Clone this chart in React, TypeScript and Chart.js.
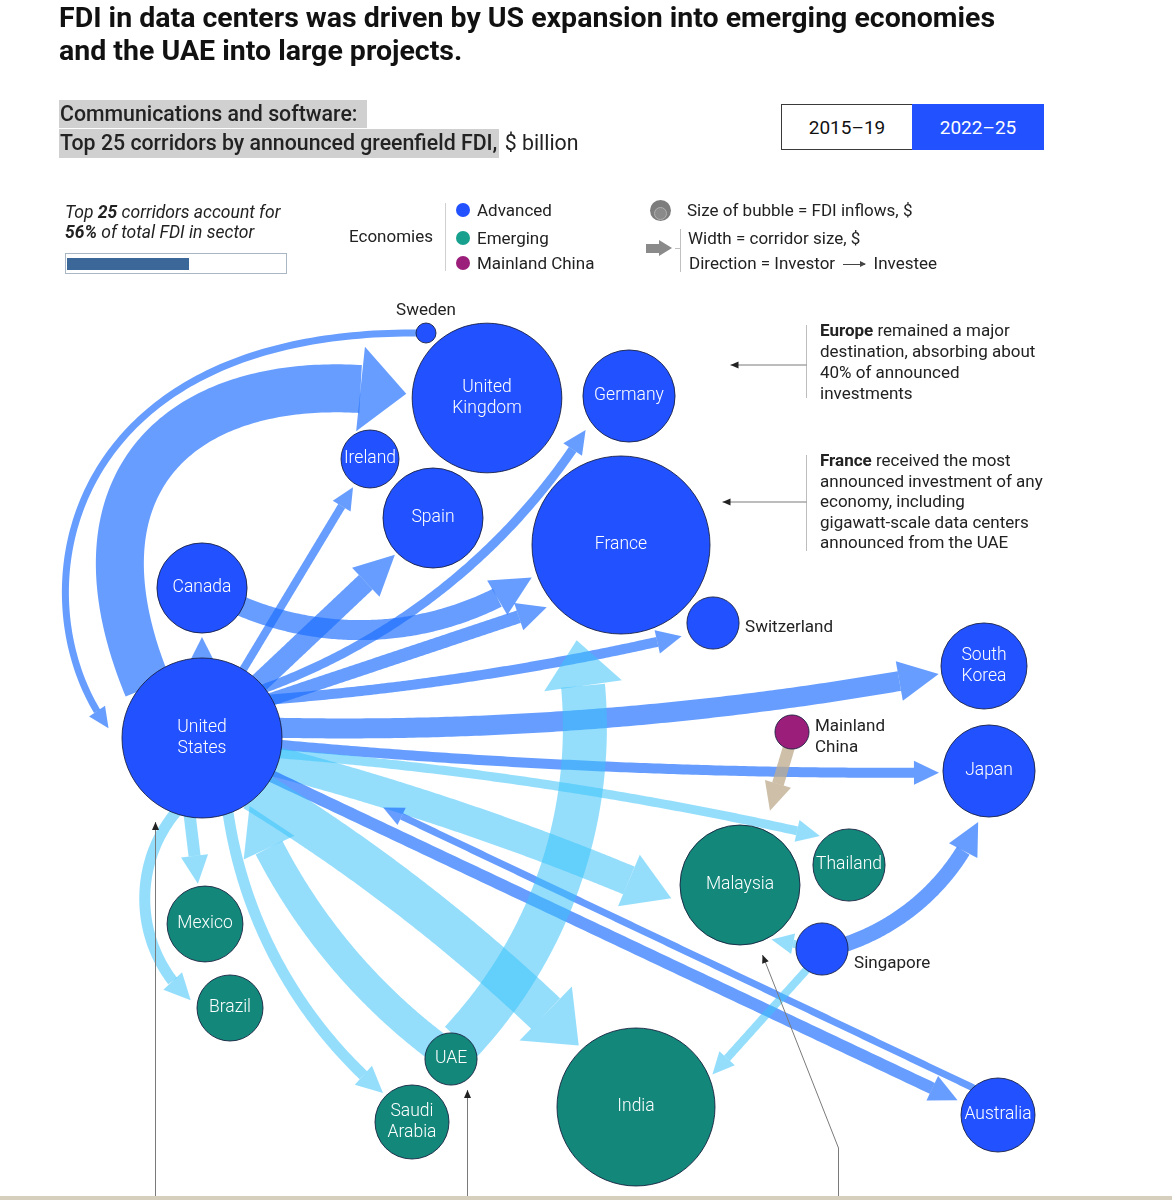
import React, { useEffect, useRef } from "react";
import { Chart, registerables } from "chart.js";

Chart.register(...registerables);

// ---------------- data ----------------
const economies = [
  "United States", "United Kingdom", "Germany", "Ireland", "Spain", "France", "Canada",
  "Switzerland", "South Korea", "Japan", "Australia", "Singapore", "Sweden",
  "Mainland China", "Malaysia", "Thailand", "Mexico", "Brazil", "UAE", "Saudi Arabia", "India",
];
const economyGroup = [
  "Advanced", "Advanced", "Advanced", "Advanced", "Advanced", "Advanced", "Advanced",
  "Advanced", "Advanced", "Advanced", "Advanced", "Advanced", "Advanced",
  "Mainland China", "Emerging", "Emerging", "Emerging", "Emerging", "Emerging", "Emerging", "Emerging",
];
// FDI inflows, $ billion (bubble size)
const fdiInflows = [64, 56, 21.2, 8.4, 25, 79.2, 20.3, 6.8, 18.5, 21.2, 13.7, 6.8, 1.0, 2.9, 36, 13, 14.4, 10.9, 6.8, 13.7, 62.4];

// corridors: investor -> investee, $ billion (arrow width)
const corridorFrom = [
  "United States", "Sweden", "Canada", "United States", "United States", "United States", "United States",
  "United States", "United States", "United States", "United States", "United States", "United States",
  "United States", "Australia", "United States", "UAE", "United States", "United States", "United States",
  "UAE", "Mainland China", "Singapore", "Singapore", "Singapore",
];
const corridorTo = [
  "United Kingdom", "United States", "France", "Canada", "Ireland", "Spain", "Germany",
  "France", "Switzerland", "South Korea", "Japan", "Thailand", "Malaysia",
  "Australia", "United States", "India", "United States", "Saudi Arabia", "Brazil", "Mexico",
  "France", "Malaysia", "Japan", "Malaysia", "India",
];
const corridorValue = [19.2, 2.8, 8, 4.8, 3.2, 8, 3.6, 5.2, 4, 8, 4, 3.6, 12, 4.8, 2.8, 16.8, 12, 4.4, 4.4, 4.8, 17.6, 4.8, 6, 3.2, 3.2];

// ---------------- layout (positions / styles) ----------------
const nodeX = [202, 487, 629, 370, 433, 621, 202, 713, 984, 989, 998, 822, 426, 792, 740, 849, 205, 230, 451, 412, 636];
const nodeY = [738, 398, 396, 459, 518, 545, 588, 623, 666, 771, 1115, 949, 333, 732, 885, 865, 924, 1008, 1059, 1122, 1107];
const labelPlacement = [
  "in", "in", "in", "in", "in", "in", "in", "right", "in", "in", "in", "below-right", "above",
  "right", "in", "in", "in", "in", "in", "in", "in",
];
// angle (deg) where an arrow leaves its source / meets its target, gap before target, arc bend (sagitta)
const corridorStartAngle = [-137, 180, 25, -90, -59, -44, -40, -30, -31, -8, 5, 12, 18, 29, -128, 45, -140, 70, 108, 100, -60, 100, -10, 190, 125];
const corridorEndAngle = [183, 186, 160, 90, 121, 136, 142, 140, 157, 170, 178, 225, 169, 200, 21, 227, 55, -135, 191, -100, 115, -68, 102, 60, -23];
const corridorGap = [6, 14, 6, 4, 4, 3, 9, 8, 8, 3, 4, 5, 10, 6, 114, 5, 3, 4, 7, 3, 16, 20, 6, 3, 4];
const corridorBend = [0, 0, -38, 0, 0, 0, -35, 0, -8, -17, -8, 10, 8, 0, 0, 12, 20, -30, -40, 0, -50, 0, -20, 0, 0];
// optional cubic control points for the long sweeping arcs
const corridorControls: (number[] | null)[] = [
  [58, 470, 195, 362], [52, 330, 16, 606], null, null, null, null, null, null, null, null, null, null, null,
  null, null, null, null, null, null, null, null, null, null, null, null,
];
// annotation call-outs: polyline points, arrowhead at the end
const callouts: number[][] = [
  [806, 365, 730, 365],
  [806, 502, 722, 502],
  [155, 1197, 155, 822],
  [467, 1197, 467, 1090],
  [838, 1197, 838, 1148, 762, 955],
];
const calloutBars: number[][] = [
  [806, 325, 806, 398],
  [806, 455, 806, 551],
];

const groupColor: Record<string, string> = {
  Advanced: "#2251FF",
  Emerging: "#13877A",
  "Mainland China": "#9C1E7B",
};
const arrowColor = {
  adv: "rgba(30,110,255,0.68)",
  em: "rgba(60,195,250,0.55)",
  cn: "rgba(190,170,140,0.75)",
};

const bubbleRadius = (v: number) => 10 * Math.sqrt(v);
const corridorWidth = (v: number) => v * 2.5;

type P = { x: number; y: number };

function samplePath(A: P, B: P, bend: number, ctrl: P[] | null): P[] {
  const N = 140;
  const pts: P[] = [];
  if (ctrl) {
    const [c1, c2] = ctrl;
    for (let i = 0; i <= N; i++) {
      const t = i / N, u = 1 - t;
      pts.push({
        x: u * u * u * A.x + 3 * u * u * t * c1.x + 3 * u * t * t * c2.x + t * t * t * B.x,
        y: u * u * u * A.y + 3 * u * u * t * c1.y + 3 * u * t * t * c2.y + t * t * t * B.y,
      });
    }
    return pts;
  }
  if (Math.abs(bend) < 0.5) {
    for (let i = 0; i <= N; i++) {
      const t = i / N;
      pts.push({ x: A.x + (B.x - A.x) * t, y: A.y + (B.y - A.y) * t });
    }
    return pts;
  }
  const dx = B.x - A.x, dy = B.y - A.y, d = Math.hypot(dx, dy);
  const ux = dx / d, uy = dy / d, nx = uy, ny = -ux;
  const s = bend, c = d / 2, R = (s * s + c * c) / (2 * Math.abs(s));
  const Mx = (A.x + B.x) / 2, My = (A.y + B.y) / 2;
  const Px = Mx + s * nx, Py = My + s * ny;
  const k = Math.sign(s) * (Math.abs(s) - R);
  const Cx = Mx + k * nx, Cy = My + k * ny;
  const a0 = Math.atan2(A.y - Cy, A.x - Cx);
  const a1 = Math.atan2(B.y - Cy, B.x - Cx);
  const am = Math.atan2(Py - Cy, Px - Cx);
  const TAU = Math.PI * 2;
  const norm = (a: number) => ((a % TAU) + TAU) % TAU;
  const sp = norm(a1 - a0), mp = norm(am - a0);
  const sweep = mp < sp ? sp : sp - TAU;
  for (let i = 0; i <= N; i++) {
    const a = a0 + (sweep * i) / N;
    pts.push({ x: Cx + R * Math.cos(a), y: Cy + R * Math.sin(a) });
  }
  return pts;
}

function drawArrow(ctx: CanvasRenderingContext2D, pts: P[], w: number, color: string) {
  const headW = w * 1.6 + 8;
  let headL = Math.min(w * 1.5 + 10, 46);
  const cum = [0];
  for (let i = 1; i < pts.length; i++) cum.push(cum[i - 1] + Math.hypot(pts[i].x - pts[i - 1].x, pts[i].y - pts[i - 1].y));
  const total = cum[cum.length - 1];
  if (headL > total) headL = total;
  const cut = total - headL;
  let j = 1;
  while (j < pts.length - 1 && cum[j] < cut) j++;
  const seg = cum[j] - cum[j - 1] || 1;
  const f = Math.max(0, Math.min(1, (cut - cum[j - 1]) / seg));
  const base = { x: pts[j - 1].x + (pts[j].x - pts[j - 1].x) * f, y: pts[j - 1].y + (pts[j].y - pts[j - 1].y) * f };
  const tip = pts[pts.length - 1];
  ctx.fillStyle = color;
  ctx.strokeStyle = color;
  if (cut > 0.5) {
    ctx.beginPath();
    ctx.moveTo(pts[0].x, pts[0].y);
    for (let k = 1; k < j; k++) ctx.lineTo(pts[k].x, pts[k].y);
    ctx.lineTo(base.x, base.y);
    ctx.lineWidth = w;
    ctx.lineCap = "butt";
    ctx.lineJoin = "round";
    ctx.stroke();
  }
  const hx = tip.x - base.x, hy = tip.y - base.y, hl = Math.hypot(hx, hy) || 1;
  const px = -hy / hl, py = hx / hl;
  ctx.beginPath();
  ctx.moveTo(base.x + (px * headW) / 2, base.y + (py * headW) / 2);
  ctx.lineTo(tip.x, tip.y);
  ctx.lineTo(base.x - (px * headW) / 2, base.y - (py * headW) / 2);
  ctx.closePath();
  ctx.fill();
}

const corridorPlugin = {
  id: "corridors",
  beforeDatasetsDraw(chart: any) {
    const ctx: CanvasRenderingContext2D = chart.ctx;
    const xs = chart.scales.x, ys = chart.scales.y;
    const toPx = (x: number, y: number): P => ({ x: xs.getPixelForValue(x), y: ys.getPixelForValue(y) });
    ctx.save();
    for (let i = 0; i < corridorFrom.length; i++) {
      const f = economies.indexOf(corridorFrom[i]);
      const t = economies.indexOf(corridorTo[i]);
      const fc = toPx(nodeX[f], nodeY[f]);
      const tc = toPx(nodeX[t], nodeY[t]);
      const rf = bubbleRadius(fdiInflows[f]);
      const rt = bubbleRadius(fdiInflows[t]);
      const a0 = (corridorStartAngle[i] * Math.PI) / 180;
      const a1 = (corridorEndAngle[i] * Math.PI) / 180;
      const inset = Math.min(6, rf * 0.3);
      const A = { x: fc.x + (rf - inset) * Math.cos(a0), y: fc.y + (rf - inset) * Math.sin(a0) };
      const B = { x: tc.x + (rt + corridorGap[i]) * Math.cos(a1), y: tc.y + (rt + corridorGap[i]) * Math.sin(a1) };
      const cc = corridorControls[i];
      const ctrl = cc ? [toPx(cc[0], cc[1]), toPx(cc[2], cc[3])] : null;
      const pts = samplePath(A, B, corridorBend[i], ctrl);
      const gf = economyGroup[f], gt = economyGroup[t];
      const kind = gf === "Mainland China" ? "cn" : gf === "Emerging" || gt === "Emerging" ? "em" : "adv";
      drawArrow(ctx, pts, corridorWidth(corridorValue[i]), (arrowColor as any)[kind]);
    }
    ctx.restore();
  },
  afterDatasetsDraw(chart: any) {
    const ctx: CanvasRenderingContext2D = chart.ctx;
    const xs = chart.scales.x, ys = chart.scales.y;
    const toPx = (x: number, y: number): P => ({ x: xs.getPixelForValue(x), y: ys.getPixelForValue(y) });
    ctx.save();
    ctx.lineWidth = 1;
    ctx.strokeStyle = "#bdbdbd";
    calloutBars.forEach((b) => {
      const p0 = toPx(b[0], b[1]), p1 = toPx(b[2], b[3]);
      ctx.beginPath();
      ctx.moveTo(Math.round(p0.x) + 0.5, p0.y);
      ctx.lineTo(Math.round(p1.x) + 0.5, p1.y);
      ctx.stroke();
    });
    callouts.forEach((c) => {
      const pts: P[] = [];
      for (let k = 0; k < c.length; k += 2) pts.push(toPx(c[k], c[k + 1]));
      ctx.strokeStyle = "#7a7a7a";
      ctx.beginPath();
      ctx.moveTo(pts[0].x + 0.5, pts[0].y);
      for (let k = 1; k < pts.length; k++) ctx.lineTo(pts[k].x + 0.5, pts[k].y);
      ctx.stroke();
      const a = pts[pts.length - 2], b = pts[pts.length - 1];
      const dx = b.x - a.x, dy = b.y - a.y, l = Math.hypot(dx, dy);
      const ux = dx / l, uy = dy / l;
      ctx.fillStyle = "#222";
      ctx.beginPath();
      ctx.moveTo(b.x + 0.5, b.y);
      ctx.lineTo(b.x + 0.5 - ux * 8 - uy * 3.5, b.y - uy * 8 + ux * 3.5);
      ctx.lineTo(b.x + 0.5 - ux * 8 + uy * 3.5, b.y - uy * 8 - ux * 3.5);
      ctx.closePath();
      ctx.fill();
    });
    ctx.textBaseline = "middle";
    for (let i = 0; i < economies.length; i++) {
      const c = toPx(nodeX[i], nodeY[i]);
      const r = bubbleRadius(fdiInflows[i]);
      const lines = economies[i].split(" ");
      const lh = 21;
      const place = labelPlacement[i];
      let x = c.x, y = c.y;
      if (place === "in") {
        ctx.font = "300 17.5px Roboto, 'Liberation Sans', Arial, sans-serif";
        ctx.fillStyle = "#ffffff";
        ctx.textAlign = "center";
        y = c.y - ((lines.length - 1) * lh) / 2;
      } else {
        ctx.font = "17px Roboto, 'Liberation Sans', Arial, sans-serif";
        ctx.fillStyle = "#222";
        if (place === "above") {
          ctx.textAlign = "center";
          y = c.y - r - 12;
        } else if (place === "right") {
          ctx.textAlign = "left";
          x = c.x + r + 6;
          y = c.y + 5 - ((lines.length - 1) * lh) / 2;
        } else {
          ctx.textAlign = "left";
          x = c.x + r + 6;
          y = c.y + 15;
        }
      }
      lines.forEach((ln, k) => ctx.fillText(ln, x, y + k * lh));
    }
    ctx.restore();
  },
};

const FONT = "Roboto, 'Liberation Sans', Arial, sans-serif";
const abs = (s: React.CSSProperties): React.CSSProperties => ({ position: "absolute", ...s });

export default function App() {
  const ref = useRef<HTMLCanvasElement>(null);
  useEffect(() => {
    const canvas = ref.current!;
    const groups = ["Advanced", "Emerging", "Mainland China"];
    const datasets = groups.map((g) => ({
      label: g,
      data: economies
        .map((_, i) => ({ x: nodeX[i], y: nodeY[i], r: bubbleRadius(fdiInflows[i]), g: economyGroup[i] }))
        .filter((d) => d.g === g)
        .map(({ x, y, r }) => ({ x, y, r })),
      backgroundColor: groupColor[g],
      borderColor: "rgba(20,28,60,0.85)",
      borderWidth: 1,
      clip: false as any,
    }));
    const chart = new Chart(canvas, {
      type: "bubble",
      data: { datasets },
      options: {
        responsive: false,
        animation: false,
        devicePixelRatio: 1,
        events: [],
        layout: { padding: 0, autoPadding: false } as any,
        scales: {
          x: { type: "linear", min: 0, max: 1172, display: false },
          y: { type: "linear", min: 0, max: 1200, reverse: true, display: false },
        },
        plugins: { legend: { display: false }, tooltip: { enabled: false } },
      },
      plugins: [corridorPlugin as any],
    });
    return () => chart.destroy();
  }, []);

  const dot = (color: string, top: number) => (
    <div style={abs({ left: 456, top: top - 7, width: 14, height: 14, borderRadius: 7, background: color })} />
  );
  const body: React.CSSProperties = { fontSize: 17, lineHeight: "20px", whiteSpace: "nowrap" };

  return (
    <div style={abs({ left: 0, top: 0, width: 1172, height: 1200, overflow: "hidden", background: "#fff", fontFamily: FONT, color: "#222" })}>
      <canvas ref={ref} width={1172} height={1200} style={abs({ left: 0, top: 0, width: 1172, height: 1200 })} />

      {/* title */}
      <div style={abs({ left: 59, top: 1, fontSize: 28.5, fontWeight: 700, lineHeight: "33px", color: "#111", whiteSpace: "nowrap", letterSpacing: 0 })}>
        FDI in data centers was driven by US expansion into emerging economies
        <br />
        and the UAE into large projects.
      </div>

      {/* subtitle */}
      <div style={abs({ left: 59, top: 100, fontSize: 21.3, lineHeight: "28px", color: "#222", whiteSpace: "nowrap" })}>
        <div>
          <span style={{ display: "inline-block", background: "#d0d0d0", padding: "0 10px 0 1px", fontWeight: 500 }}>
            Communications and software:
          </span>
        </div>
        <div style={{ marginTop: 1 }}>
          <span style={{ display: "inline-block", background: "#d0d0d0", padding: "0 2px 1px 1px", fontWeight: 500 }}>
            Top 25 corridors by announced greenfield FDI,
          </span>{" "}
          $ billion
        </div>
      </div>

      {/* period toggle */}
      <div
        style={abs({
          left: 781, top: 104, width: 131, height: 46, boxSizing: "border-box", border: "1px solid #3a3a3a", borderRight: "none",
          display: "flex", alignItems: "center", justifyContent: "center", fontSize: 19, color: "#111", background: "#fff",
        })}
      >
        2015–19
      </div>
      <div
        style={abs({
          left: 912, top: 104, width: 132, height: 46, display: "flex", alignItems: "center", justifyContent: "center",
          fontSize: 19, color: "#fff", background: "#2251FF",
        })}
      >
        2022–25
      </div>

      {/* share box */}
      <div style={abs({ left: 65, top: 202, fontSize: 17.5, lineHeight: "20px", fontStyle: "italic", color: "#222", whiteSpace: "nowrap" })}>
        Top <b>25</b> corridors account for
        <br />
        <b>56%</b> of total FDI in sector
      </div>
      <div style={abs({ left: 65, top: 253, width: 222, height: 21, boxSizing: "border-box", border: "1px solid #a8b6c6" })} />
      <div style={abs({ left: 67, top: 258, width: 122, height: 12, background: "#3b6899" })} />

      {/* economies legend */}
      <div style={abs({ left: 349, top: 226, ...body })}>Economies</div>
      <div style={abs({ left: 445, top: 203, width: 1, height: 68, background: "#d0d0d0" })} />
      {dot("#2251FF", 210)}
      {dot("#17A08E", 238)}
      {dot("#9C1E7B", 263)}
      <div style={abs({ left: 477, top: 200, ...body })}>Advanced</div>
      <div style={abs({ left: 477, top: 228, ...body })}>Emerging</div>
      <div style={abs({ left: 477, top: 253, ...body })}>Mainland China</div>

      {/* size / width legend */}
      <div style={abs({ left: 650, top: 200, width: 21, height: 21, borderRadius: 11, background: "#7d7d7d" })} />
      <div style={abs({ left: 654, top: 207, width: 13, height: 13, borderRadius: 7, boxSizing: "border-box", border: "1.5px solid #b0b0b0", background: "#8a8a8a" })} />
      <div style={abs({ left: 687, top: 200, ...body })}>Size of bubble = FDI inflows, $</div>
      <div style={abs({ left: 646, top: 244, width: 13, height: 9, background: "#8a8a8a" })} />
      <div style={abs({ left: 659, top: 240, width: 0, height: 0, borderLeft: "13px solid #8a8a8a", borderTop: "8.5px solid transparent", borderBottom: "8.5px solid transparent" })} />
      <div style={abs({ left: 675, top: 248, width: 5, height: 1, background: "#c0c0c0" })} />
      <div style={abs({ left: 680, top: 229, width: 1, height: 43, background: "#c0c0c0" })} />
      <div style={abs({ left: 688, top: 228, ...body })}>Width = corridor size, $</div>
      <div style={abs({ left: 689, top: 253, ...body })}>
        Direction = Investor{" "}
        <span style={{ display: "inline-block", position: "relative", width: 22, height: 1, background: "#444", verticalAlign: "middle", margin: "0 4px" }}>
          <span style={{ position: "absolute", right: -1, top: -3, width: 0, height: 0, borderLeft: "6px solid #444", borderTop: "3.5px solid transparent", borderBottom: "3.5px solid transparent" }} />
        </span>{" "}
        Investee
      </div>

      {/* annotations */}
      <div style={abs({ left: 820, top: 320, fontSize: 17, lineHeight: "21px", whiteSpace: "nowrap", color: "#222" })}>
        <b>Europe</b> remained a major
        <br />
        destination, absorbing about
        <br />
        40% of announced
        <br />
        investments
      </div>
      <div style={abs({ left: 820, top: 450, fontSize: 17, lineHeight: "20.5px", whiteSpace: "nowrap", color: "#222" })}>
        <b>France</b> received the most
        <br />
        announced investment of any
        <br />
        economy, including
        <br />
        gigawatt-scale data centers
        <br />
        announced from the UAE
      </div>

      {/* bottom rule */}
      <div style={abs({ left: 0, top: 1196, width: 1172, height: 4, background: "#d6cfbd" })} />
    </div>
  );
}
